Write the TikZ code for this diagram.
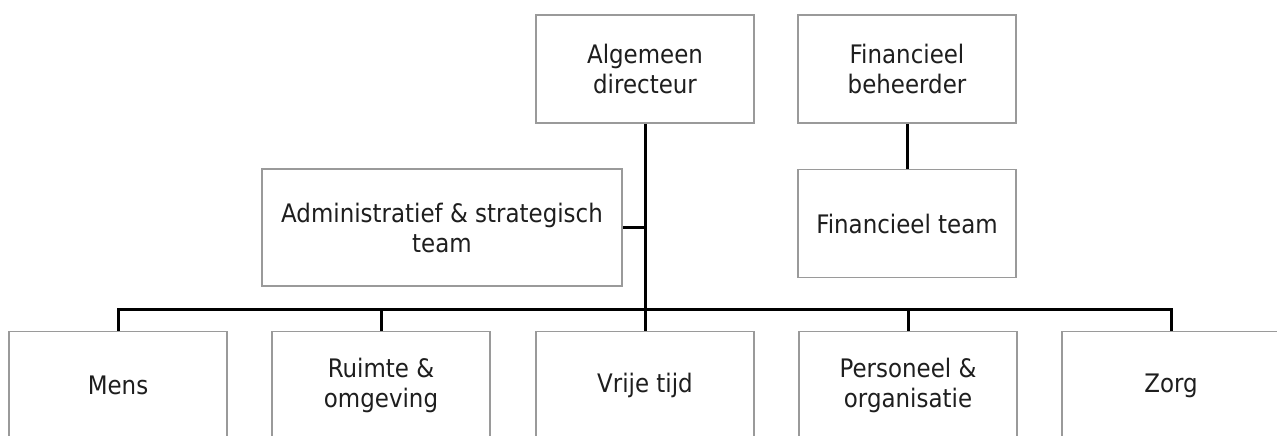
\documentclass[tikz,border=0pt]{standalone}
\usepackage{fontspec}
\setmainfont{DejaVu Sans}[FakeStretch=0.9]
\usepackage{tikz}
\usetikzlibrary{calc}
\definecolor{boxgray}{HTML}{9A9A9A}
\definecolor{txtgray}{HTML}{1E1E1E}
\tikzset{
  unit/.style={draw=boxgray,line width=1.6pt,fill=white,text=txtgray,align=center,
    minimum width=218pt,minimum height=108pt,inner sep=0pt,
    font=\fontsize{25.5}{30}\selectfont},
  link/.style={line width=3pt,black},
}

\begin{document}
\begin{tikzpicture}[x=1pt,y=-1pt]

        % FRAME
        \useasboundingbox (0,0) rectangle (1277,436);
        \clip (0,0) rectangle (1277,436);

        % COORDINATES
        \coordinate (bus) at (0,309);

        % TOP
        \node[unit] (dir) at (645,69) {Algemeen\\directeur};
        \node[unit] (fin) at (907,69) {Financieel\\beheerder};
        \node[unit] (finteam) at (907,223.5) {Financieel team};
        \node[unit,minimum width=360pt,minimum height=117pt] (admin) at (442,227.5) {Administratief \& strategisch\\team};

        % DEPARTMENTS
        \node[unit] (mens) at (118,385.5) {Mens};
        \node[unit] (ruimte) at (381,385.5) {Ruimte \&\\omgeving};
        \node[unit] (vrij) at (645,385.5) {Vrije tijd};
        \node[unit] (pers) at (908,385.5) {Personeel \&\\organisatie};
        \node[unit] (zorg) at (1171,385.5) {Zorg};

        % LINES
        \draw[link] (dir.south) -- (dir.south |- vrij.north);
        \draw[link] (admin.east) -- (admin.east -| dir.south);
        \draw[link] (fin.south) -- (finteam.north);
        \draw[link] (mens.north) -- (mens.north |- bus) -| (zorg.north);
        \draw[link] (ruimte.north) -- (ruimte.north |- bus);
        \draw[link] (pers.north) -- (pers.north |- bus);

    \end{tikzpicture}
\end{document}
